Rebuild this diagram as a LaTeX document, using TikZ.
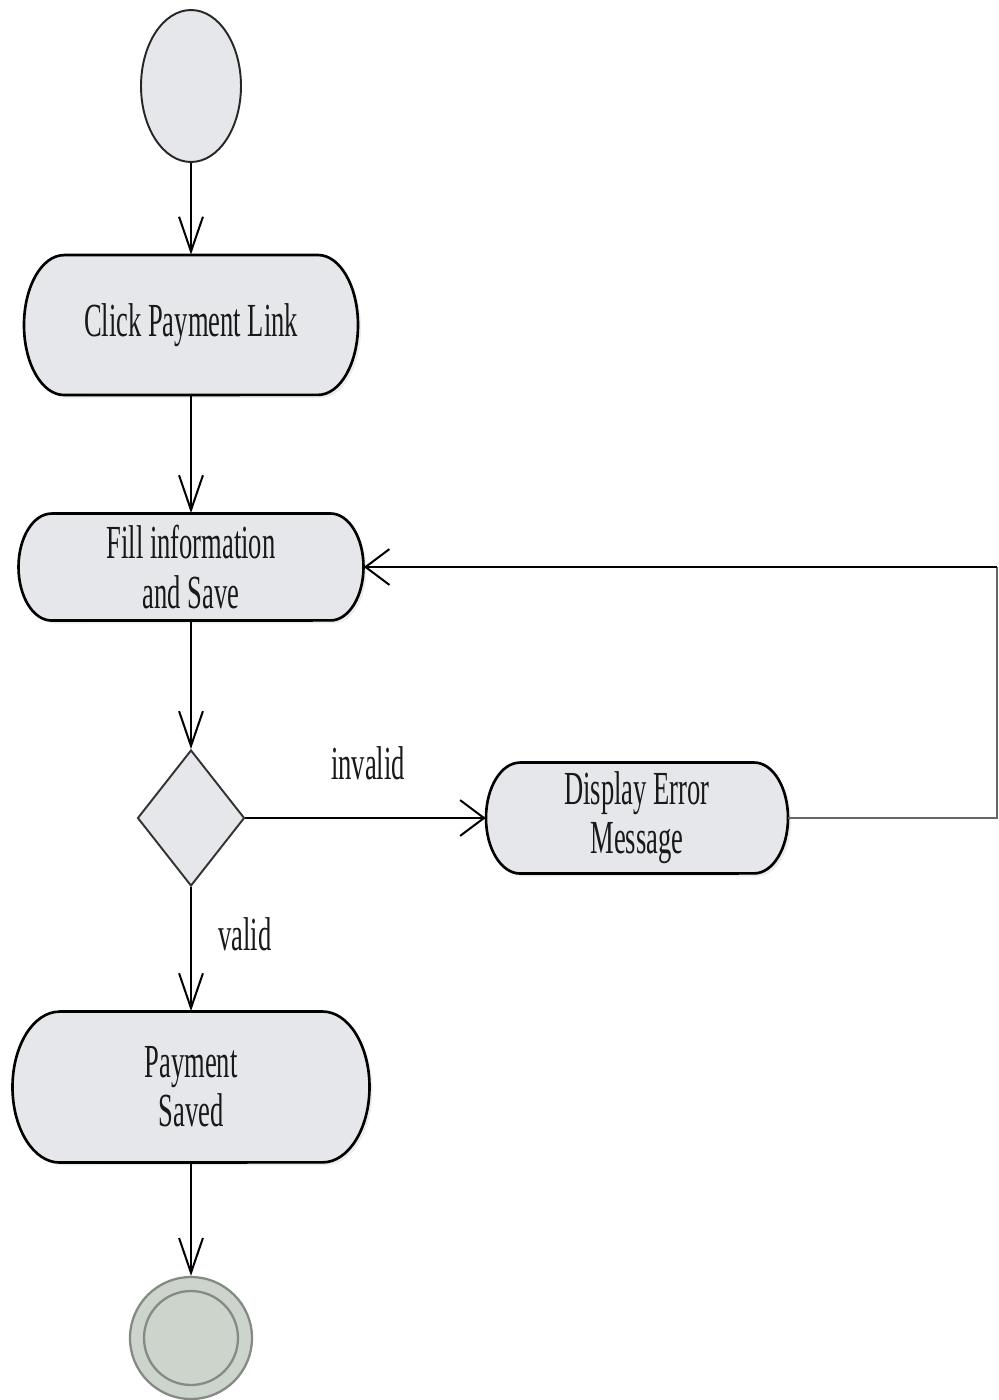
\documentclass[tikz,border=0pt]{standalone}
\usepackage{fontspec}
\setmainfont{Liberation Serif}
\newfontfamily\narrowserif[FakeStretch=0.56]{Liberation Serif}
\usetikzlibrary{arrows.meta,shapes.geometric}

\definecolor{actfill}{HTML}{E6E7EB}
\definecolor{endfill}{HTML}{CCD4CC}
\definecolor{endline}{HTML}{858A85}
\definecolor{loopgray}{HTML}{666666}

% activity box with elliptical ends: name, cx, cy, width, height, end radius (px), text
\newcommand\actbox[7]{%
  \fill[boxshadow] ({#2-#4/2+#6+3},{#3-#5/2+3}) -- ({#2+#4/2-#6+3},{#3-#5/2+3})
    arc[start angle=90,end angle=-90,x radius={#6*0.02cm},y radius={#5*0.01cm}]
    -- ({#2-#4/2+#6+3},{#3+#5/2+3})
    arc[start angle=270,end angle=90,x radius={#6*0.02cm},y radius={#5*0.01cm}] -- cycle;
  \draw[boxline] ({#2-#4/2+#6},{#3-#5/2}) -- ({#2+#4/2-#6},{#3-#5/2})
    arc[start angle=90,end angle=-90,x radius={#6*0.02cm},y radius={#5*0.01cm}]
    -- ({#2-#4/2+#6},{#3+#5/2})
    arc[start angle=270,end angle=90,x radius={#6*0.02cm},y radius={#5*0.01cm}] -- cycle;
  \node[boxtext, minimum width={#4*0.02cm}, minimum height={#5*0.02cm}] (#1) at (#2,#3) {#7};
}

\begin{document}
\begin{tikzpicture}[x=0.02cm,y=-0.02cm,
  boxline/.style={draw=black, line width=1.5pt, fill=actfill, line join=round},
  boxshadow/.style={fill=black!7},
  boxtext/.style={align=center, inner sep=0pt, text=black!90,
    font=\narrowserif\fontsize{27pt}{28pt}\selectfont},
  lbl/.style={inner sep=0pt, text=black!90,
    font=\narrowserif\fontsize{27pt}{28pt}\selectfont},
  flow/.style={draw=black, line width=1.15pt},
  varrow/.style={flow, -{Straight Barb[length=19.8pt, width=13.6pt, line width=1.15pt]}},
  harrow/.style={-{Straight Barb[length=13.6pt, width=20.4pt, line width=1.15pt]}},
]
\useasboundingbox (0,0) rectangle (999,1400);

% initial node
\node[ellipse, draw=black!85, line width=1.1pt, fill=actfill,
      minimum width=2cm, minimum height=3.04cm, inner sep=0pt] (start) at (191,86) {};

% activities
\actbox{click}{191}{325}{334}{140}{40}{Click Payment Link}
\actbox{fillinfo}{191}{567}{345}{107}{33}{Fill information\\and Save}
\actbox{disp}{637}{818}{302}{111}{34}{Display Error\\Message}
\actbox{saved}{191}{1087}{357}{151}{47}{Payment\\Saved}

% decision
\node[diamond, draw=black!80, line width=1.1pt, fill=actfill, inner sep=0pt,
      minimum width=2.14cm, minimum height=2.72cm] (dec) at (191,818) {};

% final node
\node[circle, draw=endline, line width=1.3pt, fill=endfill,
      minimum size=2.44cm, inner sep=0pt] (finish) at (191,1338) {};
\node[circle, draw=endline, line width=1.3pt,
      minimum size=1.88cm, inner sep=0pt] (finishin) at (finish.center) {};

% guards
\node[lbl] (inv) at (368,763) {invalid};
\node[lbl] (val) at (245,934) {valid};

% flows
\draw[varrow] (start.south) -- (click.north);
\draw[varrow] (click.south) -- (fillinfo.north);
\draw[varrow] (fillinfo.south) -- (dec.north);
\draw[flow, harrow] (dec.east) -- (disp.west);
\draw[varrow] (dec.south) -- (saved.north);
\draw[varrow] (saved.south) -- (finish.north);

% retry loop
\coordinate (loopa) at (997,818);
\coordinate (loopb) at (997,567);
\draw[draw=loopgray, line width=1.1pt] (disp.east) -- (loopa) -- (loopb);
\draw[draw=black, line width=1.6pt, harrow] (loopb) -- (fillinfo.east);
\end{tikzpicture}
\end{document}
